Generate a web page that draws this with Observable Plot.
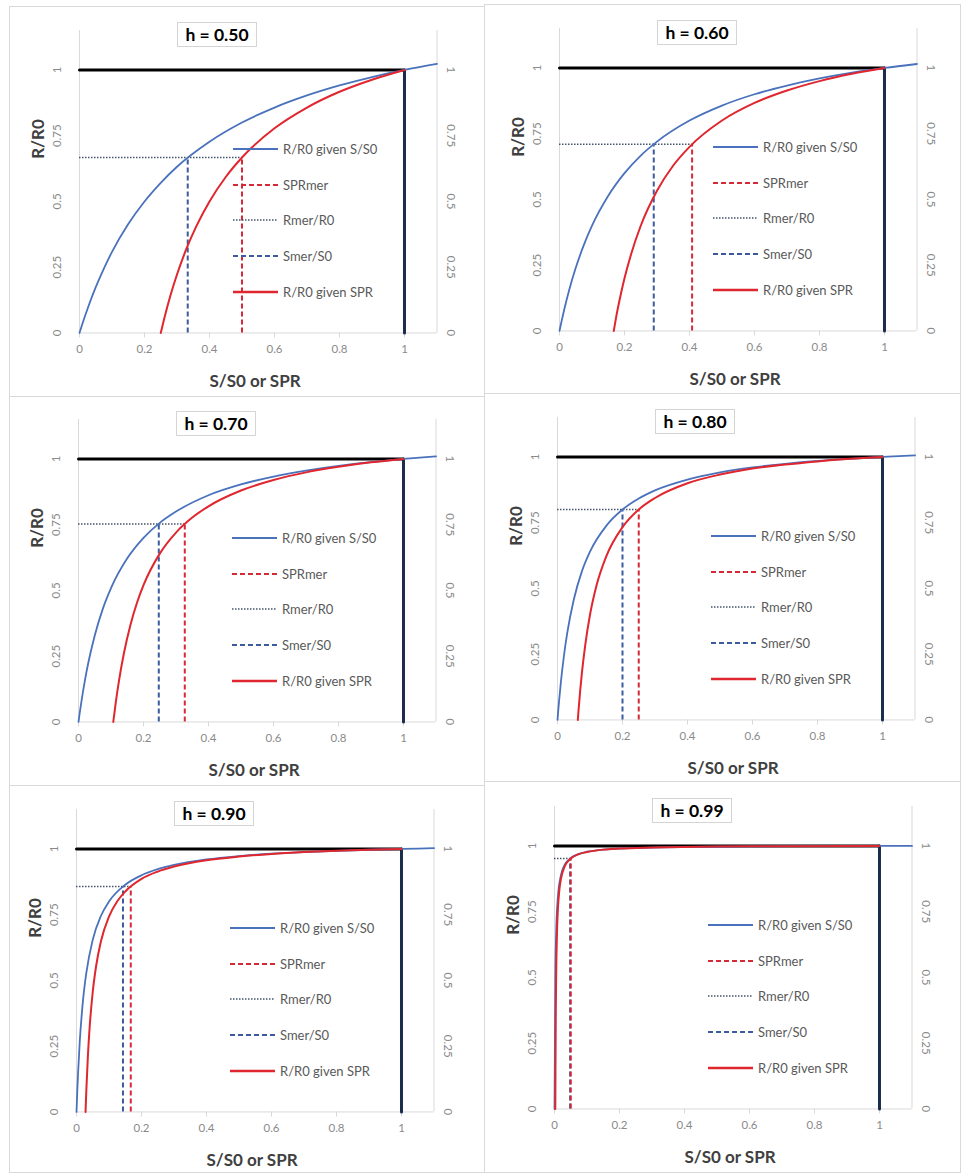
<!DOCTYPE html>
<html><head><meta charset="utf-8">
<script src="https://cdn.jsdelivr.net/npm/d3@7"></script>
<script src="https://cdn.jsdelivr.net/npm/@observablehq/plot@0.6"></script>
<style>
body{margin:0;background:#fff;font-family:Lato,"Open Sans",sans-serif;}
#root{position:relative;width:964px;height:1175px;overflow:hidden;background:#fff;}
.frame{position:absolute;border:1px solid #d9d9d9;box-sizing:border-box;}
.hbox{position:absolute;border:1px solid #d4d4d4;font-weight:bold;font-size:17.5px;color:#000;display:flex;align-items:center;justify-content:center;box-sizing:border-box;background:#fff;}
.xtitle{position:absolute;font-weight:bold;font-size:17px;color:#404040;transform:translate(-50%,-50%);white-space:nowrap;}
.ytitle{position:absolute;font-weight:bold;font-size:17px;color:#404040;transform:translate(-50%,-50%) rotate(-90deg);white-space:nowrap;}
.lg{position:absolute;display:flex;align-items:center;font-size:13px;color:#595959;white-space:nowrap;transform:translateY(-50%);}
.lg svg{margin-right:5px;}
.plotwrap{position:absolute;}
</style>
</head><body>
<div id="root"></div>
<script>
// ---------- data ----------
const steepness = [0.50, 0.60, 0.70, 0.80, 0.90, 0.99];
const panelTitles = ["h = 0.50", "h = 0.60", "h = 0.70", "h = 0.80", "h = 0.90", "h = 0.99"];
const xTicks = [0, 0.2, 0.4, 0.6, 0.8, 1];
const yTicks = [0, 0.25, 0.5, 0.75, 1];
const xDomain = [0, 1.1];
const yDomain = [0, 1.15];
const legendLabels = ["R/R0 given S/S0", "SPRmer", "Rmer/R0", "Smer/S0", "R/R0 given SPR"];
const xTitle = "S/S0 or SPR";
const yTitle = "R/R0";

// S/S0 values at which the blue curve is read
const sGrid = [0, 0.0025, 0.005, 0.01, 0.02, 0.03, 0.05, 0.075, 0.1, 0.15, 0.2, 0.25, 0.3, 0.4, 0.5, 0.6, 0.7, 0.8, 0.9, 1.0, 1.1];
const rGivenS050 = [0, 0.010, 0.020, 0.039, 0.075, 0.110, 0.174, 0.245, 0.308, 0.414, 0.500, 0.571, 0.632, 0.727, 0.800, 0.857, 0.903, 0.941, 0.973, 1.000, 1.023];
const rGivenS060 = [0, 0.015, 0.029, 0.057, 0.109, 0.157, 0.240, 0.327, 0.400, 0.514, 0.600, 0.667, 0.720, 0.800, 0.857, 0.900, 0.933, 0.960, 0.982, 1.000, 1.015];
const rGivenS070 = [0, 0.023, 0.045, 0.086, 0.160, 0.224, 0.329, 0.431, 0.509, 0.622, 0.700, 0.757, 0.800, 0.862, 0.903, 0.933, 0.956, 0.974, 0.988, 1.000, 1.010];
const rGivenS080 = [0, 0.039, 0.074, 0.139, 0.246, 0.331, 0.457, 0.565, 0.640, 0.738, 0.800, 0.842, 0.873, 0.914, 0.941, 0.960, 0.974, 0.985, 0.993, 1.000, 1.006];
const rGivenS090 = [0, 0.083, 0.153, 0.267, 0.424, 0.527, 0.655, 0.745, 0.800, 0.864, 0.900, 0.923, 0.939, 0.960, 0.973, 0.982, 0.988, 0.993, 0.997, 1.000, 1.003];
const rGivenS099 = [0, 0.498, 0.666, 0.800, 0.890, 0.925, 0.954, 0.970, 0.978, 0.986, 0.990, 0.992, 0.994, 0.996, 0.997, 0.998, 0.999, 0.999, 1.000, 1.000, 1.000];

// SPR values and R/R0
const spr050 = [0.25, 0.26, 0.28, 0.30, 0.33, 0.36, 0.40, 0.45, 0.50, 0.60, 0.70, 0.80, 0.90, 1.00];
const rGivenSPR050 = [0, 0.051, 0.143, 0.222, 0.323, 0.407, 0.500, 0.593, 0.667, 0.778, 0.857, 0.917, 0.963, 1.000];
const spr060 = [0.167, 0.175, 0.19, 0.20, 0.22, 0.25, 0.30, 0.35, 0.40, 0.50, 0.60, 0.70, 0.80, 0.90, 1.00];
const rGivenSPR060 = [0, 0.057, 0.147, 0.200, 0.291, 0.400, 0.533, 0.629, 0.700, 0.800, 0.867, 0.914, 0.950, 0.978, 1.000];
const spr070 = [0.107, 0.115, 0.125, 0.14, 0.16, 0.18, 0.20, 0.25, 0.30, 0.35, 0.40, 0.50, 0.60, 0.70, 0.80, 0.90, 1.00];
const rGivenSPR070 = [0, 0.077, 0.160, 0.263, 0.370, 0.453, 0.520, 0.640, 0.720, 0.777, 0.820, 0.880, 0.920, 0.949, 0.970, 0.987, 1.000];
const spr080 = [0.0625, 0.065, 0.07, 0.075, 0.085, 0.10, 0.12, 0.15, 0.20, 0.25, 0.30, 0.40, 0.50, 0.60, 0.70, 0.80, 0.90, 1.00];
const rGivenSPR080 = [0, 0.041, 0.114, 0.178, 0.282, 0.400, 0.511, 0.622, 0.733, 0.800, 0.844, 0.900, 0.933, 0.956, 0.971, 0.983, 0.993, 1.000];
const spr090 = [0.0278, 0.03, 0.035, 0.04, 0.05, 0.06, 0.075, 0.10, 0.125, 0.15, 0.20, 0.25, 0.30, 0.40, 0.50, 0.60, 0.70, 0.80, 0.90, 1.00];
const rGivenSPR090 = [0, 0.076, 0.212, 0.314, 0.457, 0.552, 0.648, 0.743, 0.800, 0.838, 0.886, 0.914, 0.933, 0.957, 0.971, 0.981, 0.988, 0.993, 0.997, 1.000];
const spr099 = [0.0025, 0.003, 0.004, 0.005, 0.0075, 0.01, 0.015, 0.02, 0.03, 0.05, 0.075, 0.10, 0.15, 0.20, 0.30, 0.50, 0.70, 1.00];
const rGivenSPR099 = [0, 0.159, 0.370, 0.496, 0.665, 0.749, 0.834, 0.876, 0.918, 0.952, 0.969, 0.977, 0.986, 0.990, 0.994, 0.998, 0.999, 1.000];

// MER reference values
const sMer = [0.333, 0.290, 0.247, 0.200, 0.143, 0.048];
const sprMer = [0.500, 0.408, 0.327, 0.250, 0.167, 0.050];
const rMer = [0.667, 0.710, 0.753, 0.800, 0.857, 0.952];

// unfished reference lines (R/R0 = 1 up to S/S0 = 1, and S/S0 = 1)
const unfishedH = [{s: 0, r: 1}, {s: 1, r: 1}];
const unfishedV = [{s: 1, r: 0}, {s: 1, r: 1}];

// ---------- layout (page pixels) ----------
const frames = [[9,6,476,391],[484,4,477,390],[9,396,476,390],[484,393,477,389],[9,785,476,388],[484,781,477,392]];
const origins = [[79,332],[559,330],[78,721],[557,719],[76,1111],[554,1108]];
const UX = 325, UY = 263;
const mL = 50, mR = 30, mT = 10, mB = 40;
const PW = UX * (xDomain[1] - xDomain[0]);
const PH = UY * (yDomain[1] - yDomain[0]);

const C = {
  blue: "#4a72bc", red: "#e0262e", navy: "#1c2c4c", dot: "#44546a",
  smer: "#3d5a9e", sprmer: "#d42a38", axis: "#d9d9d9", tick: "#8a8a8a"
};

const rS = [rGivenS050, rGivenS060, rGivenS070, rGivenS080, rGivenS090, rGivenS099];
const sprs = [spr050, spr060, spr070, spr080, spr090, spr099];
const rP = [rGivenSPR050, rGivenSPR060, rGivenSPR070, rGivenSPR080, rGivenSPR090, rGivenSPR099];

const root = document.getElementById("root");

steepness.forEach((h, i) => {
  const [fx, fy, fw, fh] = frames[i];
  const fr = document.createElement("div");
  fr.className = "frame";
  Object.assign(fr.style, {left: fx + "px", top: fy + "px", width: fw + "px", height: fh + "px"});
  root.appendChild(fr);

  const [ox, oy] = origins[i];
  const blue = sGrid.map((s, j) => ({s, r: rS[i][j]}));
  const red = sprs[i].map((s, j) => ({s, r: rP[i][j]}));

  const plot = Plot.plot({
    width: mL + PW + mR,
    height: mT + PH + mB,
    marginLeft: mL, marginRight: mR, marginTop: mT, marginBottom: mB,
    x: {domain: xDomain, axis: null},
    y: {domain: yDomain, axis: null},
    style: {background: "transparent", overflow: "visible", fontFamily: "Lato, 'Open Sans', sans-serif"},
    marks: [
      Plot.ruleX(xDomain, {stroke: C.axis, strokeWidth: 1}),
      Plot.ruleY([yDomain[0]], {stroke: C.axis, strokeWidth: 1}),
      Plot.axisX({ticks: xTicks, tickSize: 5, stroke: C.axis, tickFormat: () => "", label: null}),
      Plot.text(xTicks, {x: d => d, frameAnchor: "bottom", dy: 20, text: d => String(d), fill: C.tick, fontSize: 11.5}),
      Plot.text(yTicks, {y: d => d, frameAnchor: "left", dx: -22, rotate: -90, text: d => String(d), fill: C.tick, fontSize: 11.5, textAnchor: "middle", lineAnchor: "middle"}),
      Plot.text(yTicks, {y: d => d, frameAnchor: "right", dx: 14, rotate: 90, text: d => String(d), fill: C.tick, fontSize: 11.5, textAnchor: "middle", lineAnchor: "middle"}),
      Plot.line(unfishedH, {x: "s", y: "r", stroke: "#000", strokeWidth: 3}),
      Plot.line(unfishedV, {x: "s", y: "r", stroke: C.navy, strokeWidth: 3}),
      Plot.ruleY([rMer[i]], {x1: 0, x2: sprMer[i], stroke: C.dot, strokeWidth: 1.5, strokeDasharray: "1.5,1.5"}),
      Plot.ruleX([sMer[i]], {y1: 0, y2: rMer[i], stroke: C.smer, strokeWidth: 2, strokeDasharray: "5,3"}),
      Plot.ruleX([sprMer[i]], {y1: 0, y2: rMer[i], stroke: C.sprmer, strokeWidth: 2, strokeDasharray: "5,3"}),
      Plot.line(blue, {x: "s", y: "r", stroke: C.blue, strokeWidth: 1.8, curve: "monotone-x"}),
      Plot.line(red, {x: "s", y: "r", stroke: C.red, strokeWidth: 2, curve: "monotone-x"})
    ]
  });
  const wrap = document.createElement("div");
  wrap.className = "plotwrap";
  wrap.style.left = (ox - mL) + "px";
  wrap.style.top = (oy - PH - mT) + "px";
  wrap.appendChild(plot);
  root.appendChild(wrap);

  const top1 = oy - UY;

  const hb = document.createElement("div");
  hb.className = "hbox";
  Object.assign(hb.style, {left: (ox + 98) + "px", top: (top1 - 47) + "px", width: "80px", height: "25px"});
  hb.textContent = panelTitles[i];
  root.appendChild(hb);

  const xt = document.createElement("div");
  xt.className = "xtitle";
  Object.assign(xt.style, {left: (ox + 176) + "px", top: (oy + 48) + "px"});
  xt.textContent = xTitle;
  root.appendChild(xt);

  const yt = document.createElement("div");
  yt.className = "ytitle";
  Object.assign(yt.style, {left: (ox - 42) + "px", top: (top1 + 70) + "px"});
  yt.textContent = yTitle;
  root.appendChild(yt);

  const swatches = [
    {stroke: C.blue, w: 2, dash: ""},
    {stroke: C.sprmer, w: 2, dash: "5,3"},
    {stroke: C.dot, w: 1.5, dash: "1.5,1.5"},
    {stroke: C.smer, w: 2, dash: "5,3"},
    {stroke: C.red, w: 2.4, dash: ""}
  ];
  legendLabels.forEach((lab, k) => {
    const row = document.createElement("div");
    row.className = "lg";
    row.style.left = (ox + 154) + "px";
    row.style.top = (top1 + 80 + k * 35.7) + "px";
    const sw = swatches[k];
    row.innerHTML = `<svg width="45" height="6"><line x1="0" y1="3" x2="45" y2="3" stroke="${sw.stroke}" stroke-width="${sw.w}" ${sw.dash ? `stroke-dasharray="${sw.dash}"` : ""}/></svg><span>${lab}</span>`;
    root.appendChild(row);
  });
});
</script>
</body></html>
